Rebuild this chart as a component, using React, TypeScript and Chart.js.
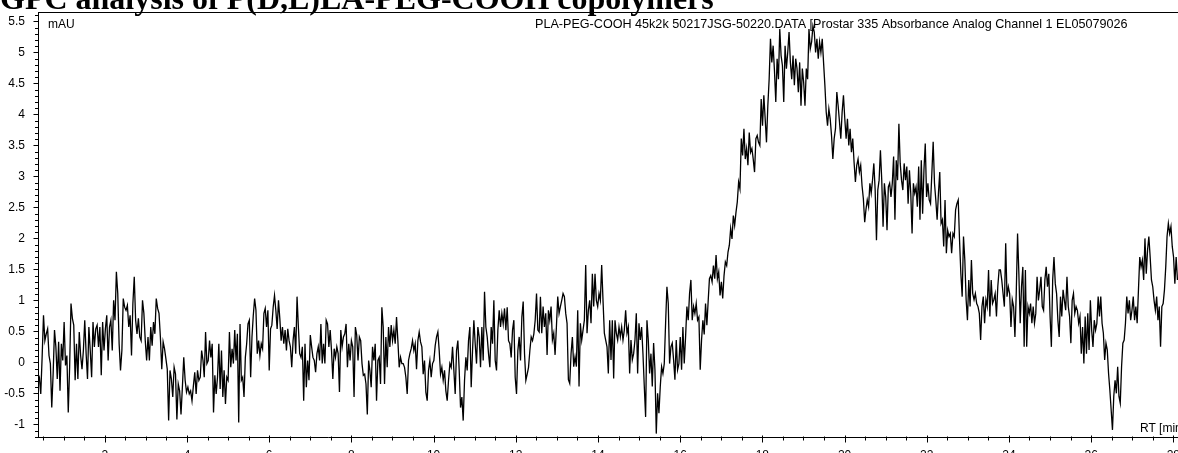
import React, { useEffect, useRef } from "react";
import { Chart, registerables } from "chart.js";

Chart.register(...registerables);

// ---- Text ----
const chartTitle = "GPC analysis of P(D,L)LA-PEG-COOH copolymers";
const headerText = "PLA-PEG-COOH 45k2k 50217JSG-50220.DATA [Prostar 335 Absorbance Analog Channel 1 EL05079026";
const yUnitLabel = "mAU";
const xUnitLabel = "RT [min]";

// ---- Axis ticks ----
const xTickValues = [2, 4, 6, 8, 10, 12, 14, 16, 18, 20, 22, 24, 26, 28];
const yTickValues = [-1, -0.5, 0, 0.5, 1, 1.5, 2, 2.5, 3, 3.5, 4, 4.5, 5, 5.5];
const xRange = [0.375, 28.6];
const yRange = [-1.216, 5.65];

// ---- Signal (mAU), segment by segment (RT ranges in min) ----
const seg1Range = [0.375, 4.39];
const seg1 = [-0.19,-0.24,-0.51,0.08,0.76,0.35,0.46,0.54,0.11,-0.02,-0.73,-0.19,0.52,0.25,-0.27,0.33,-0.46,0.30,0.03,0.65,-0.05,0.11,-0.81,-0.08,0.95,0.71,0.60,-0.29,0.30,-0.27,0.49,0.11,-0.11,0.19,0.68,0.14,-0.27,0.57,0.19,-0.24,0.65,0.25,0.54,0.60,0.25,0.57,-0.21,0.65,0.19,0.54,0.76,0.03,0.57,0.68,0.19,1.00,0.68,1.46,1.11,0.30,-0.13,0.19,1.03,0.89,0.84,0.92,0.57,0.76,0.11,0.95,1.38,0.68,0.46,0.71,0.41,0.35,1.00,0.79,0.35,0.03,0.41,0.03,0.57,0.27,0.65,0.46,1.03,0.87,0.79,0.41,-0.11,0.33,0.22,0.06,-0.11,-0.94,-0.13,-0.27,-0.56,-0.08,-0.19,-0.92,-0.35,-0.46,-0.84,-0.40,0.08,-0.29,-0.48,-0.40,-0.51,-0.46,-0.62,-0.38,-0.16,-0.51,-0.13,-0.29,-0.24,0.19,0.03];

const seg2Range = [4.42, 8.42];
const seg2 = [-0.24,0.49,-0.02,0.03,0.35,0.08,0.30,-0.81,-0.21,-0.51,-0.24,0.30,-0.43,0.19,-0.56,-0.13,-0.67,-0.24,-0.29,0.49,-0.08,0.22,-0.02,0.52,0.03,0.46,-0.97,0.62,-0.29,-0.24,-0.56,0.08,0.30,0.62,0.68,-0.24,0.41,0.76,1.03,0.84,0.14,0.35,0.11,0.30,0.22,0.79,0.87,0.57,0.84,-0.13,0.54,0.60,0.89,1.08,0.84,0.54,1.00,0.71,0.35,0.57,0.30,0.52,0.19,0.54,0.35,0.25,-0.08,0.35,0.57,0.14,1.06,0.57,0.14,0.08,0.25,-0.62,0.30,-0.40,0.03,-0.29,0.44,0.25,0.08,0.03,-0.16,0.14,0.25,0.03,0.62,-0.02,0.30,-0.02,0.68,0.62,0.25,0.52,0.19,-0.27,0.22,0.08,0.25,0.14,-0.48,0.52,0.25,0.41,0.46,0.62,-0.08,0.30,0.03,0.35,0.25,-0.56,0.57,0.44,0.03,0.41,0.35,-0.02,-0.21,-0.19,-0.35,-0.84,0.03];

const seg3Range = [8.45, 12.57];
const seg3 = [-0.13,-0.40,0.25,0.03,0.30,-0.62,0.03,0.08,-0.35,0.89,0.57,-0.35,0.41,-0.08,0.57,0.25,0.60,0.35,0.52,0.30,0.73,0.35,-0.08,0.08,-0.02,-0.02,-0.08,-0.24,-0.51,0.03,0.14,0.22,0.35,0.19,0.30,-0.11,0.35,0.49,0.33,0.25,-0.19,0.03,-0.48,-0.62,-0.13,0.03,-0.24,-0.02,0.03,0.27,0.41,0.49,0.19,-0.19,-0.08,-0.29,-0.13,-0.46,-0.62,-0.29,-0.02,-0.08,0.25,-0.13,-0.51,0.19,0.35,-0.13,-0.73,-0.56,-0.94,-0.29,0.08,-0.13,0.35,0.57,-0.40,0.19,0.68,0.30,-0.02,0.57,0.41,-0.08,0.57,0.03,1.14,0.57,0.41,0.14,-0.08,0.57,0.30,1.00,0.03,-0.13,0.52,0.84,0.57,0.79,0.62,0.87,0.52,0.89,0.35,0.30,0.08,0.52,0.68,-0.24,-0.51,0.19,0.41,0.03,0.73,0.98,0.14,-0.29,-0.19,-0.08,0.19,0.41,0.35,0.46,0.68,1.11,0.52,0.49];

const seg4Range = [12.6, 16.65];
const seg4 = [1.06,0.47,0.90,0.57,0.79,0.12,0.84,0.68,0.90,0.36,0.47,0.12,0.57,1.06,0.79,0.90,1.00,1.11,1.06,0.79,0.63,-0.28,-0.34,0.14,0.41,-0.07,0.09,-0.07,0.84,-0.39,0.63,0.36,0.52,0.68,1.57,0.47,0.84,1.00,0.63,1.43,0.90,1.43,1.00,0.90,1.11,1.00,1.57,1.00,0.47,0.36,0.25,-0.18,0.68,0.04,0.68,-0.26,0.68,0.47,0.36,0.57,0.41,0.57,0.36,0.52,0.84,0.47,0.57,-0.18,0.36,0.04,0.14,0.36,0.79,-0.18,0.63,0.36,0.57,0.14,-0.39,-0.88,0.68,0.36,-0.18,0.14,-0.39,0.31,-0.12,-1.15,-0.50,-0.82,-0.39,-0.07,-0.18,-0.02,0.63,1.22,0.95,-0.02,0.25,0.31,0.04,-0.28,0.36,-0.12,-0.02,0.41,-0.12,0.57,-0.02,0.41,0.90,0.68,1.11,1.33,0.68,0.90,0.79,0.95,0.68,0.73,-0.12,0.36,0.68,0.45,0.95,0.6];

const seg5Range = [16.68, 20.49];
const seg5 = [0.97,1.35,1.40,1.30,1.56,1.35,1.73,1.35,1.46,1.08,1.30,1.03,1.40,1.62,1.56,1.78,1.89,2.16,1.99,2.37,2.21,2.42,2.59,2.91,2.80,3.61,3.34,3.77,3.28,3.45,3.18,3.71,3.39,3.45,3.28,3.07,3.61,3.66,3.55,3.50,4.25,3.82,4.31,3.93,3.55,4.14,4.57,5.22,4.84,5.11,4.71,4.20,4.90,4.57,5.38,4.95,4.79,4.20,5.11,4.74,5.00,5.33,4.84,4.57,4.95,4.47,4.90,4.74,4.36,4.84,4.14,4.74,4.52,4.14,4.74,4.57,5.38,5.06,5.17,5.43,5.33,5.00,5.22,4.90,5.17,5.00,5.22,4.84,4.47,4.04,3.82,4.09,3.93,3.66,3.28,3.61,3.77,4.36,4.14,3.88,3.61,4.04,4.31,3.93,3.61,3.93,3.50,3.77,3.39,3.61,3.23,2.91,3.18,3.28,3.07,3.18,2.85,2.64,2.26];

const seg6Range = [20.52, 24.37];
const seg6 = [2.46,2.62,2.51,2.89,2.73,2.94,3.21,2.78,1.97,2.78,2.94,3.42,2.94,2.19,2.89,2.67,2.13,2.83,2.89,2.67,2.89,3.32,2.30,3.26,2.94,3.85,3.21,2.94,2.78,3.21,2.94,3.16,2.56,3.10,2.73,2.08,2.89,2.73,2.83,2.51,3.16,2.30,3.26,2.40,3.10,3.53,2.67,2.89,2.62,2.56,3.05,3.56,2.89,2.62,2.30,2.73,3.07,2.24,2.30,1.87,2.62,1.76,2.13,2.03,2.08,1.76,2.08,2.03,2.46,2.56,2.62,1.97,1.43,1.06,2.03,1.65,1.01,0.68,1.33,0.90,1.65,1.11,1.01,1.11,0.95,0.90,0.79,0.36,0.90,1.06,0.63,1.01,0.90,1.49,0.74,1.33,0.95,1.01,1.11,0.74,1.22,1.49,1.49,1.33,1.11,0.90,1.92,1.06,1.22,1.11,0.57,1.01,0.90,0.41,1.11,2.08,1.43,0.63,1.22,1.54,0.25];

const seg7Range = [24.4, 28.1];
const seg7 = [1.49,0.25,0.90,0.79,0.95,0.63,0.90,0.63,0.79,1.38,1.00,1.17,1.38,0.90,0.84,1.33,1.54,1.22,1.43,0.74,0.25,1.33,1.70,1.27,1.11,0.68,0.41,1.06,0.74,1.17,1.00,0.84,1.38,0.90,0.74,0.31,1.00,1.11,0.79,0.90,0.84,0.63,0.74,0.14,0.57,-0.02,0.74,0.14,0.79,0.20,1.00,0.52,0.25,0.68,0.52,0.63,1.06,0.74,1.06,0.63,0.47,0.04,0.31,0.20,-0.18,-0.45,-0.77,-1.09,-0.55,-0.29,-0.50,-0.07,-0.55,-0.66,-0.07,0.31,0.36,0.63,1.06,0.79,1.00,0.68,0.84,1.06,0.68,0.90,0.63,1.17,1.70,1.54,1.65,1.33,2.00,1.43,1.81,2.03,1.70,1.33,1.22,1.00,0.84,1.06,0.68,0.90,0.25,0.90,0.95,1.17,1.54,2.03,2.24,2.08,2.19,1.87,1.70,1.27,1.70,1.33];

const segments: [number[], number[]][] = [
  [seg1Range, seg1], [seg2Range, seg2], [seg3Range, seg3], [seg4Range, seg4],
  [seg5Range, seg5], [seg6Range, seg6], [seg7Range, seg7],
];

function buildPoints() {
  const pts: { x: number; y: number }[] = [];
  segments.forEach(([range, vals]) => {
    const n = vals.length;
    vals.forEach((v, i) => {
      pts.push({ x: range[0] + ((range[1] - range[0]) * i) / (n - 1), y: v });
    });
  });
  return pts;
}

const FONT = '"Liberation Sans", Arial, Helvetica, sans-serif';

const decorPlugin = {
  id: "decor",
  beforeDatasetsDraw(chart: any) {
    const ctx = chart.ctx;
    const { left, top, bottom } = chart.chartArea;
    ctx.save();
    ctx.fillStyle = "#000";
    ctx.textAlign = "left";
    ctx.textBaseline = "alphabetic";
    ctx.font = `12px ${FONT}`;
    ctx.fillText(yUnitLabel, left + 10, top + 16);
    ctx.fillText(xUnitLabel, 1140, bottom - 6);
    ctx.font = `12.6px ${FONT}`;
    ctx.fillText(headerText, 535, top + 16);
    ctx.restore();
  },
  afterDraw(chart: any) {
    const ctx = chart.ctx;
    const { left, right, top, bottom } = chart.chartArea;
    const xs = chart.scales.x;
    const ys = chart.scales.y;
    ctx.save();
    ctx.strokeStyle = "#000";
    ctx.lineWidth = 1;
    ctx.beginPath();
    const ty = Math.round(top) + 0.5;
    ctx.moveTo(left, ty);
    ctx.lineTo(right, ty);
    const lx = Math.round(left) - 0.5;
    for (let k = -12; k <= 56; k++) {
      const v = k / 10;
      if (v < yRange[0] || v > yRange[1]) continue;
      const py = Math.round(ys.getPixelForValue(v)) + 0.5;
      const major = k % 5 === 0;
      ctx.moveTo(lx - (major ? 4 : 2.5), py);
      ctx.lineTo(lx + (major ? 1 : 0.5), py);
    }
    const by = Math.round(bottom) + 0.5;
    for (let k = 1; k <= 58; k++) {
      const v = k / 2;
      if (v < xRange[0] || v > xRange[1]) continue;
      const px = Math.round(xs.getPixelForValue(v)) + 0.5;
      const major = k % 4 === 0;
      ctx.moveTo(px, by - (major ? 3 : 2));
      ctx.lineTo(px, by + (major ? 4 : 2));
    }
    ctx.stroke();
    ctx.fillStyle = "#000";
    ctx.font = 'bold 32px "Liberation Serif", "Times New Roman", Times, serif';
    ctx.textAlign = "left";
    ctx.textBaseline = "alphabetic";
    ctx.fillText(chartTitle, 0, 9);
    ctx.restore();
  },
};

export default function App() {
  const canvasRef = useRef<HTMLCanvasElement | null>(null);

  useEffect(() => {
    const canvas = canvasRef.current;
    if (!canvas) return;
    const chart = new Chart(canvas, {
      type: "line",
      data: {
        datasets: [
          {
            data: buildPoints(),
            borderColor: "#000",
            borderWidth: 1.3,
            pointRadius: 0,
            tension: 0,
            fill: false,
          },
        ],
      },
      options: {
        responsive: false,
        animation: false,
        devicePixelRatio: 1,
        layout: { padding: { top: 12, left: 0, right: 0, bottom: 0 } },
        plugins: {
          legend: { display: false },
          tooltip: { enabled: false },
          title: { display: false },
        },
        scales: {
          x: {
            type: "linear",
            min: xRange[0],
            max: xRange[1],
            grid: { display: false },
            border: { display: true, color: "#000", width: 1 },
            ticks: {
              padding: 3,
              color: "#000",
              font: { family: FONT, size: 12 },
              maxRotation: 0,
              autoSkip: false,
              callback: (v: any) => String(v),
            },
            afterBuildTicks: (s: any) => {
              s.ticks = xTickValues.map((v) => ({ value: v }));
            },
            afterFit: (s: any) => {
              s.height = 15.3;
            },
          },
          y: {
            type: "linear",
            min: yRange[0],
            max: yRange[1],
            grid: { display: false },
            border: { display: true, color: "#000", width: 1 },
            ticks: {
              padding: 5,
              color: "#000",
              font: { family: FONT, size: 12 },
              autoSkip: false,
              callback: (v: any) => String(v),
            },
            afterBuildTicks: (s: any) => {
              s.ticks = yTickValues.map((v) => ({ value: v }));
            },
            afterFit: (s: any) => {
              s.width = 38;
            },
          },
        },
      },
      plugins: [decorPlugin],
    } as any);
    return () => chart.destroy();
  }, []);

  return (
    <div
      style={{
        position: "fixed",
        left: 0,
        top: 0,
        width: 1178,
        height: 453,
        overflow: "hidden",
        background: "#fff",
      }}
    >
      <canvas ref={canvasRef} width={1198} height={453} style={{ display: "block" }} />
    </div>
  );
}
